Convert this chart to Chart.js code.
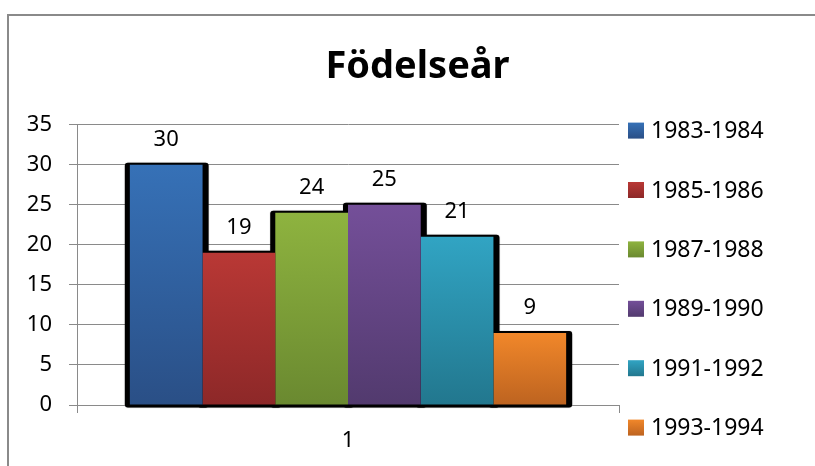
<!DOCTYPE html>
<html>
<head>
<meta charset="utf-8">
<script src="https://cdn.jsdelivr.net/npm/chart.js@4"></script>
<style>
  body { margin: 0; background: #fff; }
  canvas { display: block; }
</style>
</head>
<body>
<canvas id="births" width="815" height="466"></canvas>
<script>
// data
var categories = ['1'];
var seriesLabels = ['1983-1984', '1985-1986', '1987-1988', '1989-1990', '1991-1992', '1993-1994'];
var seriesValues = [30, 19, 24, 25, 21, 9];
var yMax = 35;
var yStep = 5;

// gradient colours, top -> bottom
var topColors = ['#3671B7', '#B93835', '#8EB33F', '#744F99', '#31A4C3', '#F1872A'];
var bottomColors = ['#2A4F86', '#8D2828', '#6A8930', '#523A6E', '#22778E', '#BD6320'];

var FONT = "'Noto Sans', 'DejaVu Sans', sans-serif";

function barGradient(i) {
  return function(c) {
    var chart = c.chart;
    if (!chart.chartArea || c.raw === undefined) return topColors[i];
    var y = chart.scales.y;
    var g = chart.ctx.createLinearGradient(0, y.getPixelForValue(c.raw), 0, y.getPixelForValue(0));
    g.addColorStop(0, topColors[i]);
    g.addColorStop(1, bottomColors[i]);
    return g;
  };
}

var datasets = seriesLabels.map(function(label, i) {
  return {
    label: label,
    data: [seriesValues[i]],
    backgroundColor: barGradient(i),
    borderWidth: 0,
    categoryPercentage: 0.805,
    barPercentage: 1
  };
});

// grey frame round the chart
var framePlugin = {
  id: 'frame',
  beforeDraw: function(chart) {
    var ctx = chart.ctx;
    ctx.save();
    ctx.strokeStyle = '#8a8a8a';
    ctx.lineWidth = 2;
    ctx.beginPath();
    ctx.moveTo(8, chart.height);
    ctx.lineTo(8, 15);
    ctx.lineTo(chart.width, 15);
    ctx.stroke();
    ctx.restore();
  }
};

// black shadow behind the bars
var shadowPlugin = {
  id: 'barShadow',
  beforeDatasetsDraw: function(chart) {
    var ctx = chart.ctx;
    ctx.save();
    ctx.fillStyle = '#000';
    ctx.shadowColor = 'rgba(0,0,0,0.5)';
    ctx.shadowBlur = 1;
    chart.data.datasets.forEach(function(ds, i) {
      chart.getDatasetMeta(i).data.forEach(function(bar) {
        var l = bar.x - bar.width / 2 - 5;
        var r = bar.x + bar.width / 2 + 6;
        var t = bar.y - 2;
        var b = bar.base + 3;
        ctx.beginPath();
        ctx.roundRect(l, t, r - l, b - t, 3);
        ctx.fill();
      });
    });
    ctx.restore();
  }
};

// value labels above bars
var valueLabels = {
  id: 'valueLabels',
  afterDatasetsDraw: function(chart) {
    var ctx = chart.ctx;
    ctx.save();
    ctx.font = '22px ' + FONT;
    ctx.fillStyle = '#000';
    ctx.textAlign = 'center';
    ctx.textBaseline = 'middle';
    chart.data.datasets.forEach(function(ds, i) {
      chart.getDatasetMeta(i).data.forEach(function(bar, j) {
        ctx.fillText(ds.data[j], bar.x, bar.y - 25);
      });
    });
    ctx.restore();
  }
};

// legend on the right, widely spaced like the original
var sideLegend = {
  id: 'sideLegend',
  afterDraw: function(chart) {
    var ctx = chart.ctx;
    var area = chart.chartArea;
    var x = area.right + 9;
    var y0 = area.top + 6;
    var step = 59.4;
    ctx.save();
    ctx.font = '23px ' + FONT;
    ctx.textBaseline = 'middle';
    ctx.textAlign = 'left';
    chart.data.datasets.forEach(function(ds, i) {
      var cy = y0 + i * step;
      var g = ctx.createLinearGradient(0, cy - 8, 0, cy + 8);
      g.addColorStop(0, topColors[i]);
      g.addColorStop(1, bottomColors[i]);
      ctx.fillStyle = g;
      ctx.fillRect(x, cy - 8, 16, 16);
      ctx.fillStyle = '#000';
      ctx.fillText(ds.label, x + 23, cy + 1);
    });
    ctx.restore();
  }
};

var gridColor = '#8a8a8a';

var ctx = document.getElementById('births').getContext('2d');
new Chart(ctx, {
  type: 'bar',
  data: {
    labels: categories,
    datasets: datasets
  },
  options: {
    responsive: false,
    animation: false,
    layout: { padding: { left: 20, right: 0, top: 0, bottom: 0 } },
    plugins: {
      legend: { display: false },
      tooltip: { enabled: false },
      title: {
        display: true,
        text: 'Födelseår',
        color: '#000',
        font: { family: FONT, size: 38, weight: 'bold' },
        padding: { top: 44, bottom: 35 }
      }
    },
    scales: {
      x: {
        offset: true,
        grid: { display: true, drawOnChartArea: false, drawTicks: true, tickLength: 8, color: gridColor },
        border: { display: true, color: gridColor, width: 1 },
        ticks: { color: '#000', font: { family: FONT, size: 22 }, padding: 15 },
        afterFit: function(s) { s.height = 61; }
      },
      y: {
        min: 0,
        max: yMax,
        ticks: { stepSize: yStep, color: '#000', font: { family: FONT, size: 22 }, padding: 17 },
        grid: { color: gridColor, tickLength: 8, drawTicks: true },
        border: { display: true, color: gridColor, width: 1 },
        afterFit: function(s) { s.width = 57; }
      },
      // empty axis that only reserves room for the legend on the right
      spacer: {
        type: 'linear',
        position: 'right',
        display: true,
        grid: { display: false },
        border: { display: false },
        ticks: { display: false },
        afterFit: function(s) { s.width = 196; }
      }
    }
  },
  plugins: [framePlugin, shadowPlugin, valueLabels, sideLegend]
});
</script>
</body>
</html>
